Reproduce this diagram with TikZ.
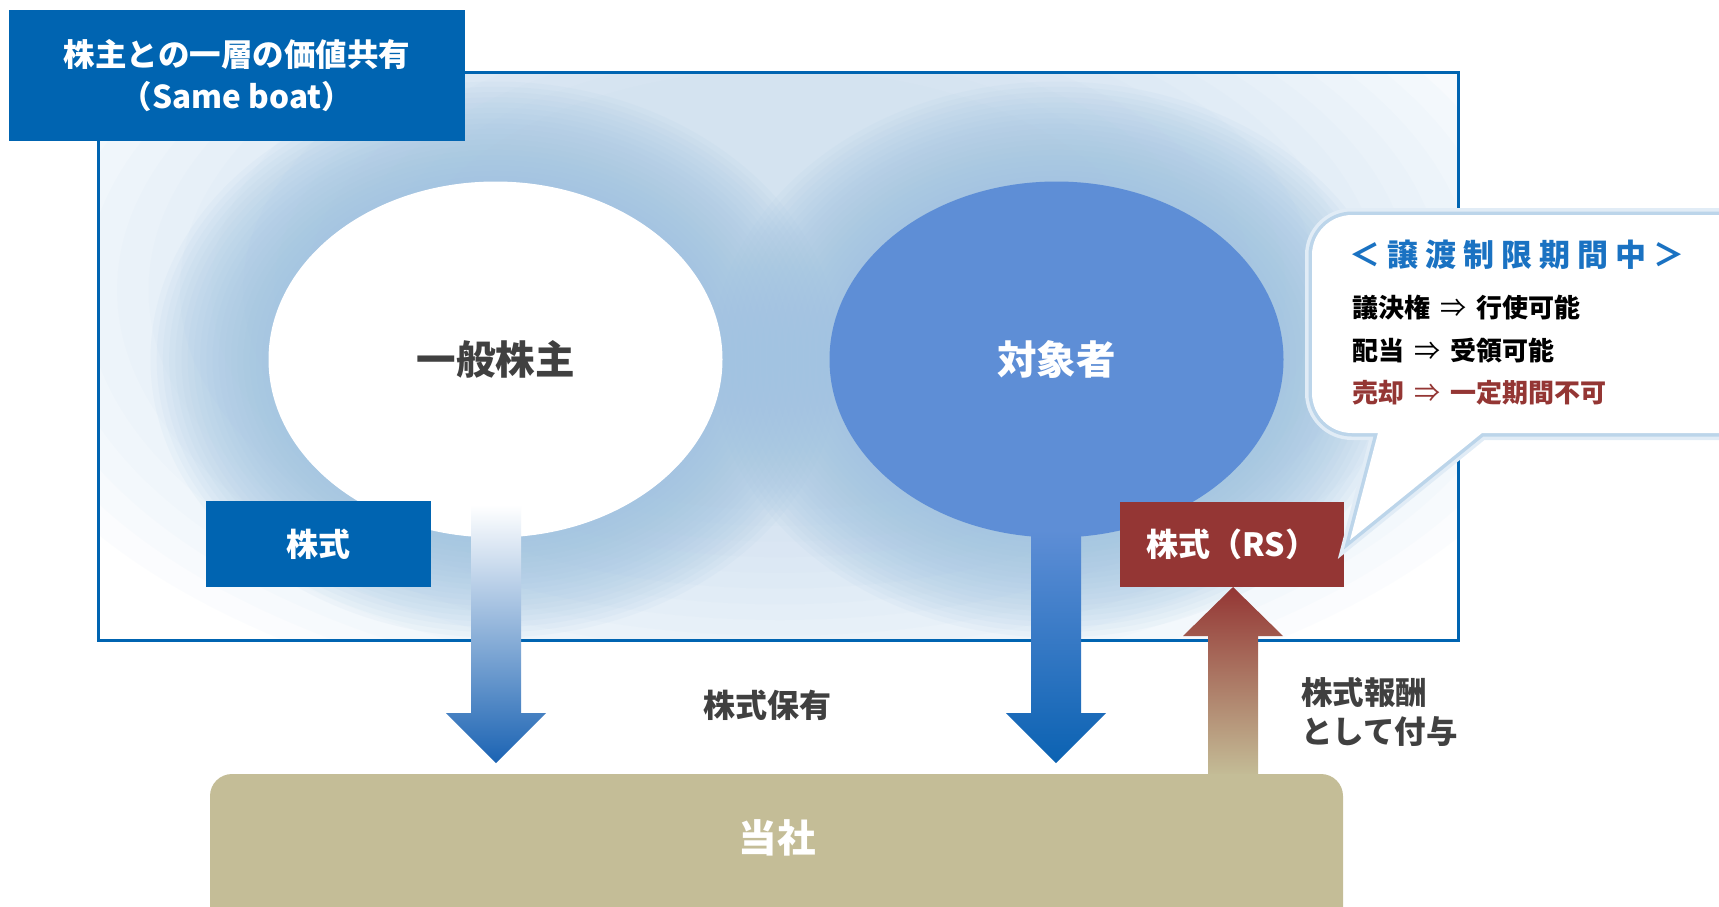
\documentclass[tikz,border=0pt]{standalone}
\usepackage{fontspec}
\setmainfont{Noto Sans CJK JP}
\usetikzlibrary{shapes.geometric}
\definecolor{mainblue}{HTML}{0064B1}
\definecolor{ellblue}{HTML}{5E8ED6}
\definecolor{rsred}{HTML}{943634}
\definecolor{tanbox}{HTML}{C4BD97}
\definecolor{txtgray}{HTML}{404040}
\definecolor{glowblue}{HTML}{9EC3E1}
\definecolor{softblue}{HTML}{B0CFE8}
\definecolor{bubbleblue}{HTML}{1A72C2}
\definecolor{bubbleedge}{HTML}{BCD5EA}
\definecolor{arrowmid}{HTML}{B4BCD8}
\definecolor{arrowdeep}{HTML}{1B63B3}
\definecolor{arrowdeep2}{HTML}{0B62B2}
\newcommand{\thinarrow}{\hspace{.4em}{\mdseries ⇒}\hspace{.4em}}
\begin{document}
\begin{tikzpicture}[x=1pt,y=-1pt,
  every node/.style={inner sep=0pt, outer sep=0pt},
  jp/.style={font=\bfseries\fontsize{#1}{#1}\selectfont},
  ell/.style={ellipse, minimum width=454, minimum height=356, jp=39.5pt},
  sharebox/.style={minimum width=225, minimum height=86, text=white, jp=32pt},
  glowring/.style={fill=glowblue, opacity=0.08},
  softring/.style={fill=softblue, opacity=0.045},
  bubble/.style={fill=white, preaction={draw=bubbleedge!45, line width=14pt}, preaction={draw=bubbleedge, line width=7pt}},
  bline/.style={anchor=west, jp=26pt}]
\useasboundingbox (0,0) rectangle (1719,906);

% background glow inside the frame
\begin{scope}
  \clip (98,72) rectangle (1458,640);
  \fill[white] (98,72) rectangle (1458,640);
  \foreach \k in {0,...,14}{
    \pgfmathsetmacro\rx{820-440*\k/14}
    \pgfmathsetmacro\ry{440-220*\k/14}
    \fill[softring] (780,290) ellipse [x radius=\rx, y radius=\ry];
  }
  \foreach \k in {0,...,19}{
    \pgfmathsetmacro\rx{227+118*(1-\k/19)}
    \pgfmathsetmacro\ry{178+100*(1-\k/19)}
    \fill[glowring] (495.5,359.5) ellipse [x radius=\rx, y radius=\ry];
    \fill[glowring] (1056.5,359.5) ellipse [x radius=\rx, y radius=\ry];
  }
\end{scope}
\draw[mainblue, line width=3pt] (98,72) rectangle (1458,640);

% ellipses
\node[ell, fill=white, text=txtgray] (gen) at (495.5,359.5) {一般株主};
\node[ell, fill=ellblue, text=white] (tgt) at (1056.5,359.5) {対象者};

% down arrows
\shade[top color=white, middle color=arrowmid, bottom color=arrowdeep]
  (471,505) -- (521,505) -- (521,713) -- (546,713) -- (496,763) -- (446,713) -- (471,713) -- cycle;
\shade[top color=ellblue, bottom color=arrowdeep2]
  (1031,530) -- (1081,530) -- (1081,713) -- (1106,713) -- (1056,763) -- (1006,713) -- (1031,713) -- cycle;

% share boxes
\node[sharebox, fill=mainblue] (kabu) at (318.5,544) {株式};
\node[sharebox, fill=rsred, minimum width=224, minimum height=85] (rs) at (1232,544.5) {株式（RS）};

% up arrow (grant)
\shade[top color=rsred, middle color=rsred, bottom color=tanbox]
  (1233,587) -- (1283,636) -- (1258,636) -- (1258,776) -- (1208,776) -- (1208,636) -- (1183,636) -- cycle;

% company box
\node[fill=tanbox, rounded corners=22pt, minimum width=1133, minimum height=160, anchor=north west] (company) at (210,774) {};
\node[text=white, jp=38.5pt] (companylbl) at (777,838) {当社};

% labels
\node[text=txtgray, jp=32pt] (hold) at (767,705) {株式保有};
\node[text=txtgray, anchor=west, align=left, font=\bfseries\fontsize{31.5pt}{39pt}\selectfont] (grant) at (1301,712) {株式報酬\\として付与};

% speech bubble
\path[bubble] (1378,433) [rounded corners=40pt] -- (1312,433) -- (1312,215) -- (1770,215) -- (1770,433) [sharp corners] -- (1482,433) -- (1350,540) -- cycle;
\node[anchor=west, text=bubbleblue, jp=31pt] (btitle) at (1349,255) {＜ 譲 渡 制 限 期 間 中 ＞};
\node[bline, text=black] (b1) at (1352,308) {議決権\thinarrow 行使可能};
\node[bline, text=black] (b2) at (1352,351) {配当\thinarrow 受領可能};
\node[bline, text=rsred] (b3) at (1352,393) {売却\thinarrow 一定期間不可};

% title box
\node[fill=mainblue, minimum width=456, minimum height=131, text=white, align=center,
  font=\bfseries\fontsize{31.5pt}{42pt}\selectfont] (title) at (237,75.5) {株主との一層の価値共有\\（Same boat）};
\end{tikzpicture}
\end{document}
